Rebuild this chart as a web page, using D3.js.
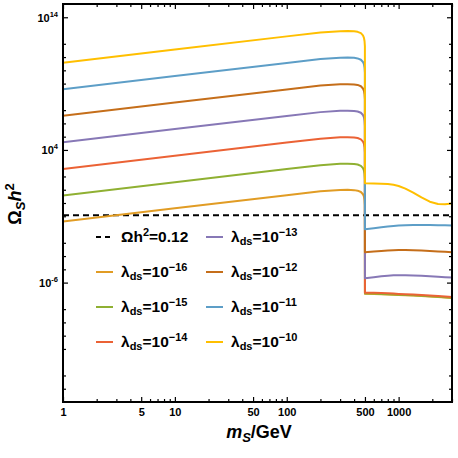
<!DOCTYPE html>
<html>
<head>
<meta charset="utf-8">
<title>Omega_S h^2 vs m_S</title>
<script src="https://cdn.jsdelivr.net/npm/d3@7/dist/d3.min.js"></script>
<style>
  body { margin: 0; background: #fff; }
  svg text { font-family: "Liberation Sans", Arial, sans-serif; font-weight: bold; fill: #000; }
</style>
</head>
<body>
<svg id="chart" width="458" height="458"></svg>
<script>
// ---- data (log10 of Omega_S h^2) ----
var lambdaExp = [-16, -15, -14, -13, -12, -11, -10];
var colors = ["#E19C24", "#8FB032", "#EB6235", "#8778B6", "#C56E1A", "#5D9EC7", "#FFBF00"];

// masses below the 500 GeV step
var massLow = [1, 10, 100, 200, 300, 350, 400, 430, 460, 480, 490, 496, 499.5];
// masses above the step
var massHigh = [500, 600, 700, 800, 900, 1000, 1150, 1350, 1600, 1900, 2250, 2600, 3000];

var logLow16 = [-1.40, -0.40, 0.59, 0.88, 0.98, 0.99, 0.97, 0.93, 0.83, 0.66, 0.48, 0.22, -0.15];
var logLow15 = [0.57, 1.57, 2.56, 2.85, 2.95, 2.96, 2.94, 2.90, 2.80, 2.63, 2.45, 2.19, 1.82];
var logLow14 = [2.57, 3.57, 4.56, 4.85, 4.95, 4.96, 4.94, 4.90, 4.80, 4.63, 4.45, 4.19, 3.82];
var logLow13 = [4.57, 5.57, 6.56, 6.85, 6.95, 6.96, 6.94, 6.90, 6.80, 6.63, 6.45, 6.19, 5.82];
var logLow12 = [6.57, 7.57, 8.56, 8.85, 8.95, 8.96, 8.94, 8.90, 8.80, 8.63, 8.45, 8.19, 7.82];
var logLow11 = [8.57, 9.57, 10.56, 10.85, 10.95, 10.96, 10.94, 10.90, 10.80, 10.63, 10.45, 10.19, 9.82];
var logLow10 = [10.57, 11.57, 12.56, 12.85, 12.95, 12.96, 12.94, 12.90, 12.80, 12.63, 12.45, 12.19, 11.82];

var logHigh16 = [-6.84, -6.85, -6.87, -6.89, -6.91, -6.93, -6.95, -6.98, -7.01, -7.05, -7.09, -7.13, -7.16];
var logHigh15 = [-6.82, -6.83, -6.85, -6.87, -6.89, -6.91, -6.93, -6.96, -6.99, -7.03, -7.07, -7.11, -7.14];
var logHigh14 = [-6.76, -6.77, -6.79, -6.81, -6.83, -6.85, -6.87, -6.90, -6.93, -6.97, -7.01, -7.05, -7.08];
var logHigh13 = [-5.68, -5.60, -5.53, -5.48, -5.45, -5.44, -5.44, -5.46, -5.49, -5.52, -5.56, -5.59, -5.62];
var logHigh12 = [-3.72, -3.66, -3.61, -3.58, -3.56, -3.55, -3.55, -3.56, -3.58, -3.61, -3.65, -3.68, -3.72];
var logHigh11 = [-1.97, -1.90, -1.83, -1.77, -1.73, -1.70, -1.67, -1.65, -1.65, -1.66, -1.67, -1.68, -1.69];
var logHigh10 = [1.48, 1.47, 1.45, 1.43, 1.37, 1.28, 1.08, 0.78, 0.42, 0.10, -0.08, -0.10, -0.03];

var omegaObs = 0.12;

var xMajor = [1, 5, 10, 50, 100, 500, 1000];
var xMinor = [2, 3, 4, 6, 7, 8, 9, 20, 30, 40, 60, 70, 80, 90, 200, 300, 400, 600, 700, 800, 900, 2000, 3000];
var yMajorExp = [-6, 4, 14];
var yMinorExp = [-14, -13, -11, -10, -9, -8, -5, -4, -3, -1, 0, 1, 2, 5, 6, 7, 9, 10, 11, 12];

var lowSets = [logLow16, logLow15, logLow14, logLow13, logLow12, logLow11, logLow10];
var highSets = [logHigh16, logHigh15, logHigh14, logHigh13, logHigh12, logHigh11, logHigh10];

var series = lambdaExp.map(function(e, i) {
  var pts = massLow.map(function(m, j) { return [m, Math.pow(10, lowSets[i][j])]; })
    .concat(massHigh.map(function(m, j) { return [m, Math.pow(10, highSets[i][j])]; }));
  return { exp: e, color: colors[i], points: pts };
});

// ---- layout ----
var padL = 63, padR = 452, padT = 4, padB = 402;
var svg = d3.select("#chart");

var x = d3.scaleLog().domain([1, 3000]).range([padL, padR]);
var y = d3.scaleLog().domain([1e-15, 1e15]).range([padB, padT]);

svg.append("defs").append("clipPath").attr("id", "clip")
  .append("rect").attr("x", padL).attr("y", padT)
  .attr("width", padR - padL).attr("height", padB - padT);

var line = d3.line()
  .x(function(d) { return x(d[0]); })
  .y(function(d) { return y(d[1]); });

var plot = svg.append("g").attr("clip-path", "url(#clip)");

plot.append("line")
  .attr("x1", x(1)).attr("x2", x(3000))
  .attr("y1", y(omegaObs)).attr("y2", y(omegaObs))
  .attr("stroke", "#000").attr("stroke-width", 2)
  .attr("stroke-dasharray", "6,4");

plot.selectAll("path.curve")
  .data(series)
  .enter().append("path")
  .attr("class", "curve")
  .attr("d", function(d) { return line(d.points); })
  .attr("fill", "none")
  .attr("stroke", function(d) { return d.color; })
  .attr("stroke-width", 2)
  .attr("stroke-linejoin", "round");

// ---- axes (ticks inward on all four sides) ----
function styleAxis(g) {
  g.select(".domain").remove();
  g.selectAll(".tick line").attr("stroke", "#000").attr("stroke-width", 1.2);
}

svg.append("g").attr("transform", "translate(0," + padB + ")")
  .call(d3.axisBottom(x).tickValues(xMajor).tickSize(-5).tickPadding(6).tickFormat(d3.format("d")))
  .call(styleAxis)
  .selectAll("text").style("font-size", "11px")
  .style("font-family", "'Liberation Sans', Arial, sans-serif").style("font-weight", "bold");
svg.append("g").attr("transform", "translate(0," + padB + ")")
  .call(d3.axisBottom(x).tickValues(xMinor).tickSize(-3).tickFormat(""))
  .call(styleAxis);
svg.append("g").attr("transform", "translate(0," + padT + ")")
  .call(d3.axisTop(x).tickValues(xMajor).tickSize(-5).tickFormat(""))
  .call(styleAxis);
svg.append("g").attr("transform", "translate(0," + padT + ")")
  .call(d3.axisTop(x).tickValues(xMinor).tickSize(-3).tickFormat(""))
  .call(styleAxis);

var yMajor = yMajorExp.map(function(e) { return Math.pow(10, e); });
var yMinor = yMinorExp.map(function(e) { return Math.pow(10, e); });

var yAxisG = svg.append("g").attr("transform", "translate(" + padL + ",0)")
  .call(d3.axisLeft(y).tickValues(yMajor).tickSize(-5).tickPadding(5).tickFormat(""))
  .call(styleAxis);
svg.append("g").attr("transform", "translate(" + padL + ",0)")
  .call(d3.axisLeft(y).tickValues(yMinor).tickSize(-3).tickFormat(""))
  .call(styleAxis);
svg.append("g").attr("transform", "translate(" + padR + ",0)")
  .call(d3.axisRight(y).tickValues(yMajor).tickSize(-5).tickFormat(""))
  .call(styleAxis);
svg.append("g").attr("transform", "translate(" + padR + ",0)")
  .call(d3.axisRight(y).tickValues(yMinor).tickSize(-3).tickFormat(""))
  .call(styleAxis);

// power-of-ten labels with superscripts
yAxisG.selectAll(".tick").each(function(d) {
  var e = Math.round(Math.log10(d));
  var t = d3.select(this).select("text")
    .attr("x", -5).attr("dy", "0.35em")
    .style("font-size", "11px").attr("text-anchor", "end");
  t.text("");
  t.append("tspan").text("10");
  t.append("tspan").attr("dy", "-5").style("font-size", "7.5px")
    .text(e < 0 ? "-" + Math.abs(e) : String(e));
});

// frame
svg.append("rect")
  .attr("x", padL).attr("y", padT)
  .attr("width", padR - padL).attr("height", padB - padT)
  .attr("fill", "none").attr("stroke", "#000").attr("stroke-width", 2);

// axis titles
var xt = svg.append("text").attr("x", 259).attr("y", 438)
  .attr("text-anchor", "middle").style("font-size", "18px");
xt.append("tspan").style("font-style", "italic").text("m");
xt.append("tspan").style("font-style", "italic").style("font-size", "13px").attr("dy", 4).text("S");
xt.append("tspan").attr("dy", -4).text("/GeV");

var yt = svg.append("text")
  .attr("transform", "translate(21,204) rotate(-90)")
  .attr("text-anchor", "middle").style("font-size", "18px");
yt.append("tspan").text("\u03A9");
yt.append("tspan").style("font-style", "italic").style("font-size", "13px").attr("dy", 4).text("S");
yt.append("tspan").style("font-style", "italic").attr("dy", -4).text("h");
yt.append("tspan").style("font-size", "13px").attr("dy", -7).text("2");

// ---- legend ----
var legendItems = [{ dash: true, color: "#000" }].concat(series);
var colX = [96, 206], rowY = [237, 272, 307, 342];

legendItems.forEach(function(d, i) {
  var cx = colX[Math.floor(i / 4)], cy = rowY[i % 4];
  var g = svg.append("g").attr("transform", "translate(" + cx + "," + cy + ")");
  g.append("line").attr("x1", 0).attr("x2", 17).attr("y1", 0).attr("y2", 0)
    .attr("stroke", d.color).attr("stroke-width", 2)
    .attr("stroke-dasharray", d.dash ? "5,4" : null);
  var t = g.append("text").attr("x", 25).attr("y", 5).style("font-size", "15.5px");
  if (d.dash) {
    t.append("tspan").text("\u03A9h");
    t.append("tspan").style("font-size", "11px").attr("dy", -6).text("2");
    t.append("tspan").attr("dy", 6).text("=0.12");
  } else {
    t.append("tspan").text("\u03BB");
    t.append("tspan").style("font-size", "11px").attr("dy", 3).text("ds");
    t.append("tspan").attr("dy", -3).text("=10");
    t.append("tspan").style("font-size", "11px").attr("dy", -6).text("\u2212" + Math.abs(d.exp));
  }
});
</script>
</body>
</html>
